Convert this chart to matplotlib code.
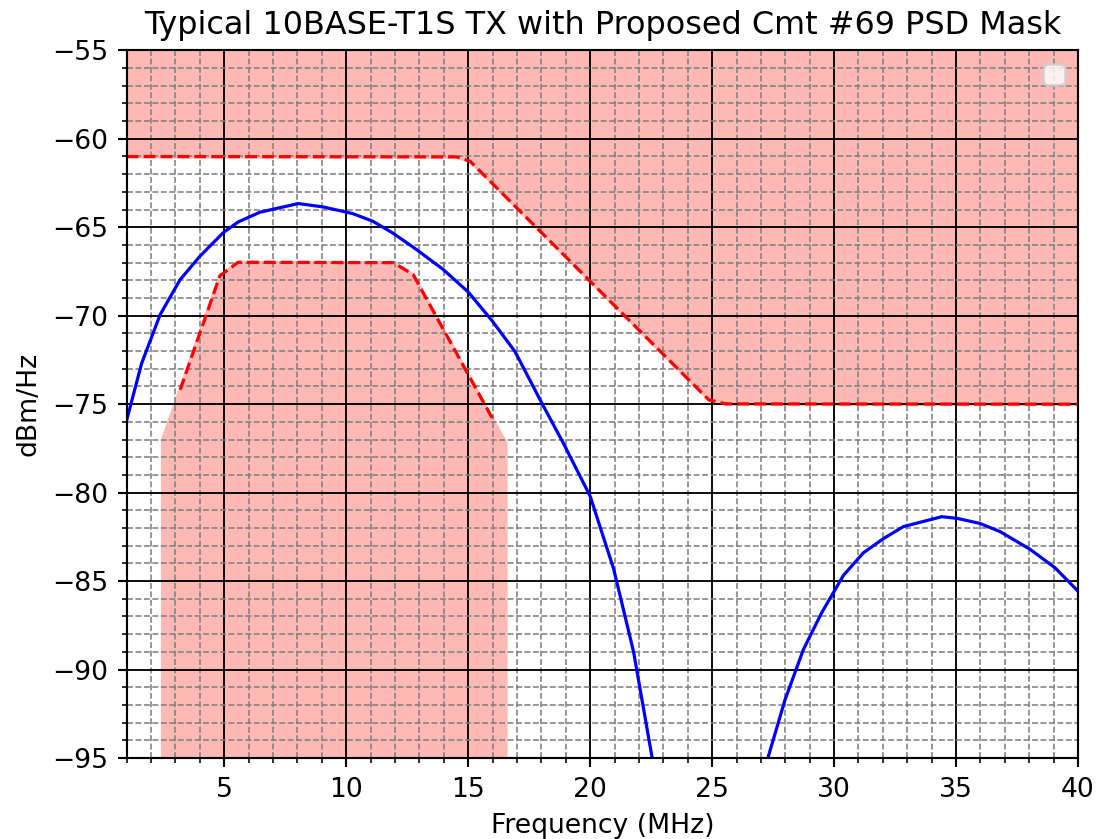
import matplotlib
matplotlib.use("Agg")
import matplotlib.pyplot as plt
from matplotlib.ticker import MultipleLocator

# Typical TX PSD, MHz / dBm/Hz
tx_freq = [1.0, 1.61, 2.37, 3.19, 4.0, 4.96, 5.57, 6.46, 8.03, 9.05, 10.27,
           11.09, 11.9, 12.81, 13.97, 15.0, 15.96, 16.92, 18.08, 18.9, 20.0,
           20.96, 21.78, 22.53, 22.9, 27.2, 27.99, 28.74, 29.49, 30.38, 31.2,
           32.02, 32.84, 34.41, 35.03, 35.98, 36.8, 38.03, 39.06, 40.0]
tx_psd = [-75.9, -72.7, -69.94, -67.96, -66.64, -65.3, -64.7, -64.15, -63.66,
          -63.85, -64.23, -64.66, -65.32, -66.19, -67.38, -68.66, -70.25,
          -72.03, -75.1, -77.2, -80.2, -84.3, -89.0, -94.9, -97.2, -95.4,
          -91.7, -88.87, -86.79, -84.68, -83.4, -82.6, -81.92, -81.36, -81.45,
          -81.74, -82.2, -83.2, -84.25, -85.57]

# upper PSD mask
upper_freq = [1.0, 14.52, 15.07, 24.86, 25.55, 40.0]
upper_mask = [-61.0, -61.02, -61.26, -74.75, -74.98, -75.0]

# lower PSD mask (dashed part)
lower_freq = [3.19, 4.82, 5.57, 11.93, 12.74, 16.03]
lower_mask = [-74.19, -67.74, -66.98, -67.0, -67.67, -75.9]

# lower mask shaded region outline
lower_fill_freq = [2.47, 2.47, 4.82, 5.57, 11.93, 12.74, 16.55, 16.55]
lower_fill_psd = [-96.0, -77.0, -67.74, -66.98, -67.0, -67.67, -77.2, -96.0]

fill_color = "#ffb9b5"

DPI = 191.5
fig = plt.figure(figsize=(1097 / DPI, 839 / DPI), dpi=DPI)
ax = fig.add_axes([0.1155, 0.0965, 0.8672, 0.8435])

ax.fill_between(upper_freq, upper_mask, -50, color=fill_color, lw=1.2)
ax.fill(lower_fill_freq, lower_fill_psd, color=fill_color, lw=1.2)

ax.plot(tx_freq, tx_psd, color="blue", linewidth=1.2)
ax.plot(upper_freq, upper_mask, color="red", linestyle="--", linewidth=1.2)
ax.plot(lower_freq, lower_mask, color="red", linestyle="--", linewidth=1.2)

ax.set_xlim(1, 40)
ax.set_ylim(-95, -55)
ax.xaxis.set_major_locator(MultipleLocator(5))
ax.xaxis.set_minor_locator(MultipleLocator(1))
ax.yaxis.set_major_locator(MultipleLocator(5))
ax.yaxis.set_minor_locator(MultipleLocator(1))
ax.grid(which="major", color="black", linestyle="-", linewidth=0.7)
ax.grid(which="minor", color="gray", linestyle="--", linewidth=0.6)

ax.set_title("Typical 10BASE-T1S TX with Proposed Cmt #69 PSD Mask")
ax.set_xlabel("Frequency (MHz)")
ax.set_ylabel("dBm/Hz")
ax.legend(handles=[], loc="upper right")

fig.savefig("out.png", dpi=DPI)
